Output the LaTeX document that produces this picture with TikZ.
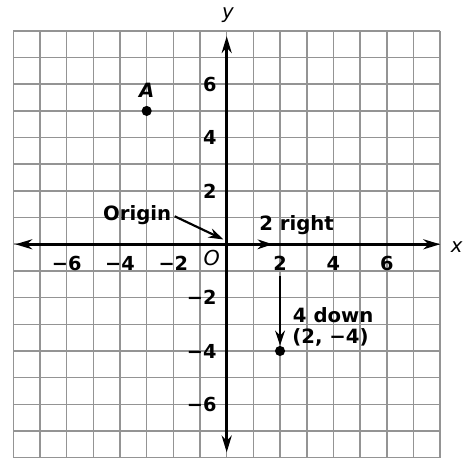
\documentclass[tikz,border=0pt]{standalone}
\usepackage{fontspec}
\setmainfont{DejaVu Sans}
\usetikzlibrary{arrows.meta}
\begin{document}
\begin{tikzpicture}[x=0.5cm,y=0.5cm,
  gridline/.style={black!42,line width=0.85pt},
  axis/.style={line width=1.3pt,{Stealth[length=9pt,width=5.4pt]}-{Stealth[length=9pt,width=5.4pt]}},
  movearrow/.style={line width=1.25pt,-{Stealth[length=8pt,width=5.2pt]}},
  lbl/.style={font=\fontsize{10.5}{12}\selectfont\bfseries,inner sep=0pt},
  tick/.style={font=\fontsize{10.3}{12}\selectfont\bfseries,inner sep=0pt},
  ital/.style={font=\fontsize{10.5}{12}\selectfont\itshape,inner sep=0pt},
  dot/.style={circle,fill=black,inner sep=0pt,minimum size=5.4pt}]
\useasboundingbox (-8.5,-8.13) rectangle (9.01,9.16);
% grid
\foreach \i in {-8,...,8}{
  \draw[gridline] (\i,-8) -- (\i,8);
  \draw[gridline] (-8,\i) -- (8,\i);
}
% axes
\coordinate (xl) at (-7.92,0);
\coordinate (xr) at (8,0);
\coordinate (yb) at (0,-7.8);
\coordinate (yt) at (0,7.8);
\draw[axis] (xl) -- (xr);
\draw[axis] (yb) -- (yt);
\node[ital,anchor=base] (xlab) at (8.62,-0.31) {x};
\node[ital,anchor=base] (ylab) at (0.05,8.46) {y};
% tick labels
\foreach \v in {-6,-4,-2}{
  \node[tick] (xt\v) at (\v,-0.72) {−\the\numexpr-\v\relax};
  \node[tick,anchor=east] (yt\v) at (-0.37,\v) {−\the\numexpr-\v\relax};
}
\foreach \v in {2,4,6}{
  \node[tick] (xt\v) at (\v,-0.72) {\v};
  \node[tick,anchor=east] (yt\v) at (-0.37,\v) {\v};
}
\node[ital,font=\fontsize{11}{12}\selectfont\itshape] (O) at (-0.56,-0.5) {O};
% point A
\node[dot] (A) at (-3,5) {};
\node[lbl,anchor=base,font=\fontsize{10.5}{12}\selectfont\bfseries\itshape] (Alab) at (-3,5.5) {A};
% Origin
\coordinate (org) at (0,0);
\node[lbl,anchor=base] (origin) at (-3.36,0.9) {Origin};
\coordinate (ostart) at (-1.95,1.05);
\coordinate (otip) at (-0.12,0.18);
\draw[line width=1.15pt,-{Stealth[length=8pt,width=5.2pt]}] (ostart) -- (otip);
% 2 right
\coordinate (rtip) at (1.72,0);
\draw[movearrow] (org) -- (rtip);
\node[lbl,anchor=base] (right) at (2.62,0.5) {2 right};
% 4 down
\node[dot] (P) at (2,-4) {};
\coordinate (dstart) at (2,-1.19);
\coordinate (dtip) at (2,-3.8);
\draw[movearrow] (dstart) -- (dtip);
\node[lbl,anchor=base west] (down) at (2.47,-2.92) {4 down};
\node[lbl,anchor=base west] (Plab) at (2.45,-3.72) {(2, −4)};
\end{tikzpicture}
\end{document}
